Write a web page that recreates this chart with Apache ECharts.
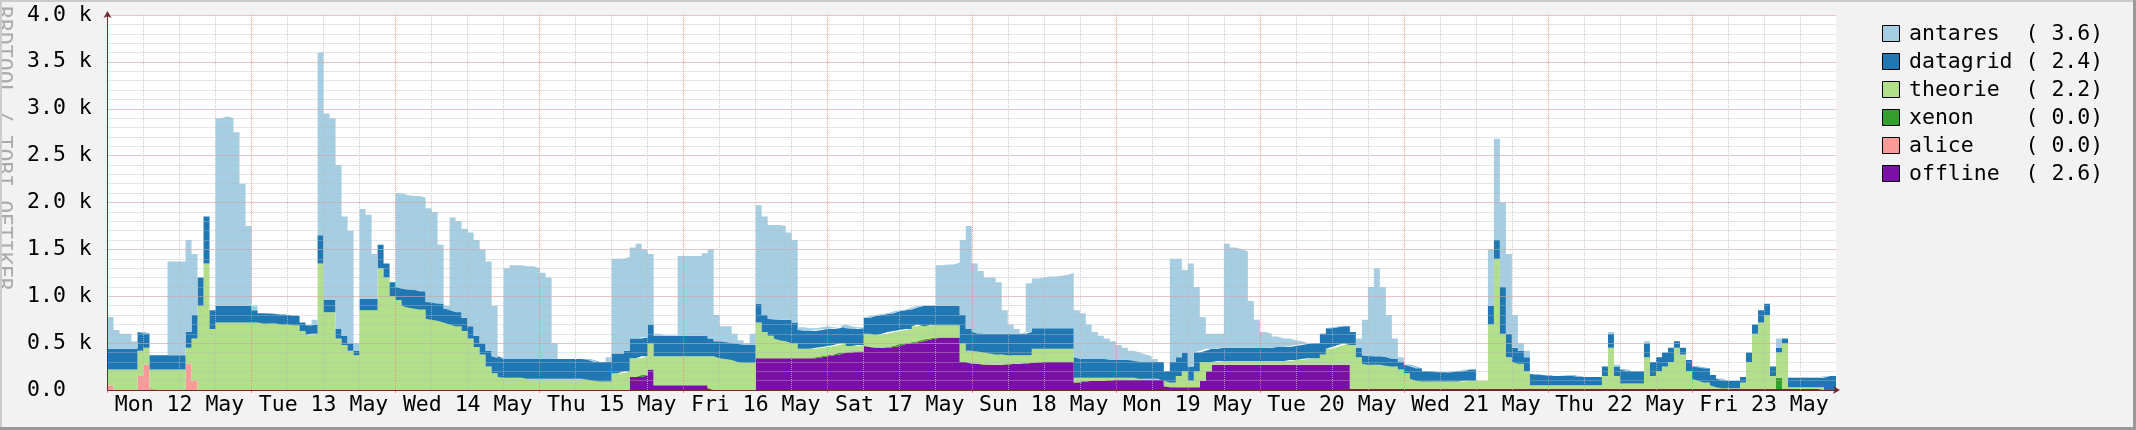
<!DOCTYPE html>
<html><head><meta charset="utf-8">
<script src="https://cdn.jsdelivr.net/npm/echarts@6/dist/echarts.min.js"></script>
<style>html,body{margin:0;padding:0;background:#f2f2f2}#c{width:2136px;height:430px}</style>
</head><body><div id="c"></div>
<script>
// Day labels (placed at noon of each day), 12 days, hourly samples (values in k)
const dayLabels = ['Mon 12 May','Tue 13 May','Wed 14 May','Thu 15 May','Fri 16 May','Sat 17 May',
  'Sun 18 May','Mon 19 May','Tue 20 May','Wed 21 May','Thu 22 May','Fri 23 May'];
const legendNames = ['antares','datagrid','theorie','xenon','alice','offline'];
const legendValues = ['3.6','2.4','2.2','0.0','0.0','2.6'];

const offline = [
0,0,0,0,0,0,0,0,0,0,0,0,0,0,0,0,0,0,0,0,0,0,0,0,
0,0,0,0,0,0,0,0,0,0,0,0,0,0,0,0,0,0,0,0,0,0,0,0,
0,0,0,0,0,0,0,0,0,0,0,0,0,0,0,0,0,0,0,0,0,0,0,0,
0,0,0,0,0,0,0,0,0,0,0,0,0,0,0,.14,.14,.16,.22,.05,.05,.05,.05,.05,
.05,.05,.05,.05,.02,0,0,0,0,0,0,0,.34,.34,.34,.34,.34,.34,.34,.34,.34,.34,.35,.36,
.37,.38,.4,.4,.41,.41,.47,.46,.45,.45,.46,.47,.49,.5,.51,.52,.54,.55,.56,.56,.56,.56,.3,.3,
.28,.28,.27,.27,.27,.27,.28,.28,.28,.29,.29,.3,.3,.3,.3,.3,.3,.08,.09,.1,.1,.1,.1,.11,
.11,.11,.11,.11,.11,.11,.11,.11,.04,.03,.03,.03,.03,.03,.1,.2,.27,.27,.27,.27,.27,.27,.27,.27,
.27,.27,.27,.27,.27,.27,.27,.27,.27,.27,.27,.27,.27,.27,.27,.01,.01,.01,.01,.01,.01,.01,.01,.01,
.01,.01,.01,.01,.01,.01,.01,.01,.01,.01,.01,.01,.01,.01,.01,.01,.01,.01,.01,.01,.01,.01,.01,.01,
.01,.01,.01,.01,.01,.01,.01,.01,.01,.01,.01,.01,.01,.01,.01,.01,.01,.01,.01,.01,.01,.01,.01,.01,
.01,.01,.01,.01,.01,.01,.01,.01,.01,.01,.01,.01,.01,.01,.01,.01,.01,.01,.01,.01,.01,.01,0,0];

const alice = [
.05,0,0,0,0,.15,.27,.02,0,0,0,0,0,.28,.1,0,0,0,0,0,0,0,0,0,
0,0,0,0,0,0,0,0,0,0,0,0,0,0,0,0,0,0,0,0,0,0,0,0,
0,0,0,0,0,0,0,0,0,0,0,0,0,0,0,0,0,0,0,0,0,0,0,0,
0,0,0,0,0,0,0,0,0,0,0,0,0,0,0,0,0,0,0,0,0,0,0,0,
0,0,0,0,0,0,0,0,0,0,0,0,0,0,0,0,0,0,0,0,0,0,0,0,
0,0,0,0,0,0,0,0,0,0,0,0,0,0,0,0,0,0,0,0,0,0,0,0,
0,0,0,0,0,0,0,0,0,0,0,0,0,0,0,0,0,0,0,0,0,0,0,0,
0,0,0,0,0,0,0,0,0,0,0,0,0,0,0,0,0,0,0,0,0,0,0,0,
0,0,0,0,0,0,0,0,0,0,0,0,0,0,0,0,0,0,0,0,0,0,0,0,
0,0,0,0,0,0,0,0,0,0,0,0,0,0,0,0,0,0,0,0,0,0,0,0,
0,0,0,0,0,0,0,0,0,0,0,0,0,0,0,0,0,0,0,0,0,0,0,0,
0,0,0,0,0,0,0,0,0,0,0,0,0,0,0,0,0,0,0,0,0,0,0,0];

const xenon = [
0,0,0,0,0,0,0,0,0,0,0,0,0,0,0,0,0,0,0,0,0,0,0,0,
0,0,0,0,0,0,0,0,0,0,0,0,0,0,0,0,0,0,0,0,0,0,0,0,
0,0,0,0,0,0,0,0,0,0,0,0,0,0,0,0,0,0,0,0,0,0,0,0,
0,0,0,0,0,0,0,0,0,0,0,0,0,0,0,0,0,0,0,0,0,0,0,0,
0,0,0,0,0,0,0,0,0,0,0,0,0,0,0,0,0,0,0,0,0,0,0,0,
0,0,0,0,0,0,0,0,0,0,0,0,0,0,0,0,0,0,0,0,0,0,0,0,
0,0,0,0,0,0,0,0,0,0,0,0,0,0,0,0,0,0,0,0,0,0,0,0,
0,0,0,0,0,0,0,0,0,0,0,0,0,0,0,0,0,0,0,0,0,0,0,0,
0,0,0,0,0,0,0,0,0,0,0,0,0,0,0,0,0,0,0,0,0,0,0,0,
0,0,0,0,0,0,0,0,0,0,0,0,0,0,0,0,0,0,0,0,0,0,0,0,
0,0,0,0,0,0,0,0,0,0,0,0,0,0,0,0,0,0,0,0,0,0,0,0,
0,0,0,0,0,0,0,0,0,0,0,0,0,0,.12,0,0,0,0,0,0,0,0,0];

const theorie = [
.17,.22,.22,.22,.22,.27,.18,.2,.22,.22,.22,.22,.22,.17,.45,.9,1.35,.65,.72,.72,.72,.72,.72,.72,
.72,.72,.71,.71,.71,.7,.7,.69,.63,.59,.6,1.35,.83,.83,.55,.48,.42,.37,.85,.85,.85,1.3,1.2,1.0,
.96,.9,.88,.87,.86,.76,.75,.74,.72,.7,.68,.63,.55,.46,.38,.25,.18,.14,.13,.13,.13,.13,.12,.12,
.12,.12,.12,.12,.12,.12,.12,.12,.11,.1,.09,.09,.18,.18,.2,.2,.2,.2,.28,.31,.31,.31,.31,.31,
.31,.31,.31,.31,.34,.36,.34,.33,.32,.3,.29,.29,.38,.28,.24,.21,.19,.18,.16,.1,.1,.1,.1,.1,
.1,.1,.1,.07,.06,.07,.13,.14,.14,.15,.16,.16,.15,.15,.17,.18,.14,.14,.13,.13,.13,.13,.2,.12,
.14,.13,.13,.12,.11,.11,.09,.09,.09,.08,.15,.14,.14,.14,.14,.14,.14,.05,.04,.03,.03,.03,.03,.02,
.02,.02,.02,.02,.01,.01,.01,.01,.06,.05,.12,.17,.07,.17,.2,.1,.03,.04,.04,.04,.04,.04,.04,.04,
.04,.04,.04,.04,.04,.05,.05,.06,.07,.07,.11,.17,.19,.21,.23,.47,.34,.27,.26,.26,.26,.25,.24,.21,
.17,.11,.09,.08,.08,.08,.08,.08,.08,.08,.09,.09,.09,.09,.69,1.39,.59,.34,.29,.27,.19,.04,.04,.04,
.04,.04,.04,.04,.04,.04,.04,.04,.04,.14,.44,.14,.06,.06,.06,.06,.34,.14,.19,.24,.29,.44,.37,.19,
.11,.09,.07,.04,.02,.01,.01,.01,.07,.29,.59,.71,.79,.14,.27,.49,.02,.02,.02,.02,.02,.02,0,0];

const datagrid = [
.22,.22,.22,.22,.22,.2,.15,.15,.15,.15,.15,.15,.15,.17,.25,.3,.5,.2,.18,.18,.18,.18,.18,.18,
.13,.1,.11,.1,.1,.1,.1,.1,.09,.1,.1,.3,.13,.13,.1,.1,.08,.05,.12,.12,.12,.25,.15,.15,
.14,.18,.19,.2,.19,.18,.18,.18,.15,.15,.15,.14,.13,.12,.12,.17,.18,.2,.2,.2,.2,.2,.21,.21,
.21,.21,.21,.21,.21,.21,.21,.21,.21,.2,.21,.21,.21,.21,.22,.21,.21,.2,.2,.22,.22,.22,.22,.22,
.22,.22,.22,.22,.19,.16,.18,.18,.18,.19,.19,.19,.2,.18,.18,.2,.22,.23,.22,.2,.19,.19,.19,.19,
.18,.18,.18,.19,.18,.18,.17,.19,.21,.21,.2,.21,.21,.21,.2,.2,.22,.21,.21,.21,.21,.21,.3,.23,
.2,.19,.2,.21,.22,.22,.23,.23,.23,.25,.22,.22,.22,.22,.22,.22,.22,.22,.2,.2,.2,.2,.2,.19,
.19,.19,.19,.18,.18,.18,.18,.18,.1,.22,.2,.2,.15,.2,.12,.14,.14,.14,.14,.14,.14,.14,.14,.14,
.14,.14,.15,.15,.15,.15,.16,.16,.16,.16,.22,.22,.21,.2,.18,.14,.1,.09,.09,.09,.09,.09,.08,.08,
.09,.13,.13,.11,.11,.1,.1,.1,.11,.11,.12,.12,0,0,.2,.2,.5,.25,.15,.14,.15,.12,.11,.11,
.1,.1,.1,.11,.1,.09,.09,.09,.09,.1,.15,.1,.15,.13,.13,.13,.15,.15,.15,.15,.15,.07,.07,.12,
.13,.14,.15,.11,.09,.08,.08,.08,.06,.1,.1,.13,.12,.1,.05,.05,.1,.1,.1,.1,.1,.1,.15,.15];

const antares = [
.34,.2,.16,.16,.08,0,0,0,0,0,1.0,1.0,1.0,.98,.65,0,0,0,2.0,2.02,2.0,1.85,1.3,.85,
.05,0,0,0,0,0,0,0,0,0,.05,1.95,1.99,1.94,1.75,1.27,1.2,.08,.96,.9,.48,0,0,0,
1.0,1.0,1.0,1.0,1.0,1.0,.97,.63,.03,.99,.97,.95,1.0,1.02,1.0,.95,.54,0,.97,1.0,1.0,.99,.99,.97,
.92,.87,.17,0,0,0,0,0,0,0,0,.05,1.01,1.01,1.0,.97,1.01,.94,.75,.02,0,0,0,.85,
.85,.85,.85,.88,.95,.28,.16,.17,.1,.04,.02,.12,1.05,1.05,1.0,1.01,1.0,.93,.88,.03,.03,.03,.03,.03,
.02,.02,.02,.02,.02,.01,0,0,0,0,0,0,0,0,0,0,0,0,.43,.44,.44,.46,.8,1.1,
.73,.67,.6,.6,.55,.25,.1,.05,0,.52,.53,.54,.55,.55,.56,.57,.59,.5,.49,.37,.29,.25,.22,.2,
.16,.13,.1,.09,.08,.06,.03,0,0,1.1,1.05,.88,1.1,.7,.36,.16,.16,.15,1.11,1.07,1.05,1.03,.5,.3,
.17,.15,.11,.09,.09,.06,.04,.01,0,0,0,0,0,0,0,0,.1,.38,.74,.94,.74,.45,.22,.05,
0,0,0,0,0,0,0,0,0,0,0,0,0,0,.6,1.08,.9,.85,.35,.08,.07,0,0,0,
0,0,0,0,0,0,0,0,0,0,.02,.02,0,0,0,0,.02,0,0,0,0,0,0,0,
0,0,0,0,0,0,0,0,0,0,0,0,0,0,.1,0,.01,.01,.01,.01,.01,.01,0,0];

const colors = {antares:'#a6cee3', datagrid:'#1f78b4', theorie:'#b2df8a', xenon:'#33a02c', alice:'#fb9a99', offline:'#7a10a8'};
const stackOrder = [['offline',offline],['alice',alice],['xenon',xenon],['theorie',theorie],['datagrid',datagrid],['antares',antares]];

const hours = [];
for (let i = 0; i <= 288; i++) hours.push(i);

const FONT = '"DejaVu Sans Mono", monospace';
const AXIS_COLOR = '#6e2a2a';
const chart = echarts.init(document.getElementById('c'), null, {renderer: 'canvas'});

const series = stackOrder.map(([name, arr]) => ({
  name, type: 'line', stack: 'all', step: 'end', symbol: 'none', silent: true,
  data: arr.concat([arr[arr.length - 1]]),
  color: colors[name],
  lineStyle: {width: 0},
  areaStyle: {color: colors[name], opacity: 1},
  emphasis: {disabled: true}, z: 2
}));

// legend drawn as graphic boxes + real text
const legendGraphics = [];
legendNames.forEach((n, i) => {
  legendGraphics.push({type: 'rect', silent: true, shape: {x: 1882.5, y: 25.5 + 28 * i, width: 17, height: 16},
    style: {fill: colors[n], stroke: '#000', lineWidth: 1}});
  legendGraphics.push({type: 'text', silent: true, x: 1909, y: 34 + 28 * i,
    style: {text: (n + '         ').slice(0, 9) + '( ' + legendValues[i] + ')', font: '21.5px "DejaVu Sans Mono"',
      fill: '#000', textAlign: 'left', textVerticalAlign: 'middle', align: 'left', verticalAlign: 'middle'}});
});

chart.setOption({
  animation: false,
  backgroundColor: '#f2f2f2',
  grid: {left: 107.5, top: 15, width: 1728.5, height: 375, show: true, backgroundColor: '#ffffff', borderWidth: 0},
  xAxis: [
    {type: 'category', data: hours, boundaryGap: false, z: 4,
     axisLine: {show: true, lineStyle: {color: AXIS_COLOR, width: 1}, symbol: ['none', 'arrow'], symbolSize: [6, 7], symbolOffset: [0, 4]},
     axisTick: {show: false},
     axisLabel: {interval: (i) => i % 24 === 12, formatter: (v, i) => dayLabels[(i - 12) / 24] || '',
       fontFamily: FONT, fontSize: 21.5, color: '#000', margin: 4},
     splitLine: {show: true, interval: (i) => i % 6 === 0 && i % 24 !== 0, lineStyle: {color: 'rgba(185,185,185,0.75)', type: [1, 1], width: 1}}
    },
    {type: 'category', data: hours, boundaryGap: false, position: 'bottom', z: 3,
     axisLine: {show: false}, axisLabel: {show: false},
     axisTick: {show: true, interval: (i) => i % 24 === 0 && i !== 288, length: 3, lineStyle: {color: 'rgba(255,110,110,0.9)'}},
     splitLine: {show: true, interval: (i) => i % 24 === 0 && i !== 0 && i !== 288, lineStyle: {color: 'rgba(255,120,120,0.75)', type: [1, 1], width: 1}}
    }
  ],
  yAxis: [
    {type: 'value', min: 0, max: 4, interval: 0.1, z: 4,
     axisLine: {show: true, lineStyle: {color: AXIS_COLOR, width: 1}, symbol: ['none', 'arrow'], symbolSize: [6, 7], symbolOffset: [0, 4]},
     axisTick: {show: false}, axisLabel: {show: false},
     splitLine: {show: true, lineStyle: {color: 'rgba(185,185,185,0.75)', type: [1, 1], width: 1}}
    },
    {type: 'value', min: 0, max: 4, interval: 0.5, position: 'left', z: 3,
     axisLine: {show: false}, axisTick: {show: false},
     axisLabel: {formatter: v => v === 0 ? '0.0' : v.toFixed(1) + ' k', align: 'left', margin: 80.5,
       fontFamily: FONT, fontSize: 21.5, color: '#000'},
     splitLine: {show: true, lineStyle: {color: 'rgba(255,120,120,0.75)', type: [1, 1], width: 1}}
    }
  ],
  series: series,
  graphic: [
    {type: 'text', x: -8, y: 6, rotation: -Math.PI / 2, silent: true,
     style: {text: 'RRDTOOL / TOBI OETIKER', font: '21.5px "DejaVu Sans Mono"', fill: '#ababab',
       textAlign: 'left', textVerticalAlign: 'bottom', align: 'left', verticalAlign: 'bottom'}},
    {type: 'rect', shape: {x: 0, y: 0, width: 2136, height: 2}, style: {fill: '#cbcbcb'}, silent: true},
    {type: 'rect', shape: {x: 0, y: 0, width: 2, height: 430}, style: {fill: '#cbcbcb'}, silent: true},
    {type: 'rect', shape: {x: 0, y: 427, width: 2136, height: 3}, style: {fill: '#9a9a9a'}, silent: true},
    {type: 'rect', shape: {x: 2133, y: 0, width: 3, height: 430}, style: {fill: '#9a9a9a'}, silent: true}
  ].concat(legendGraphics)
});
</script></body></html>
